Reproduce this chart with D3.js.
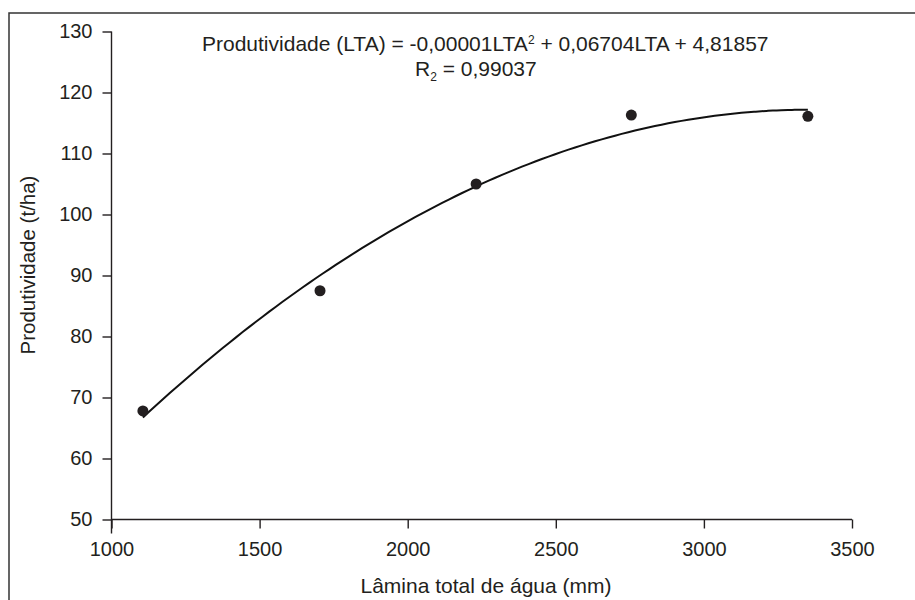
<!DOCTYPE html>
<html>
<head>
<meta charset="utf-8">
<script src="https://cdn.jsdelivr.net/npm/d3@7"></script>
<style>
  html, body { margin: 0; padding: 0; background: #fff; }
  svg { display: block; }
  text { font-family: "Liberation Sans", Arial, sans-serif; fill: #231f20; }
</style>
</head>
<body>
<svg id="chart" width="915" height="600"></svg>
<script>
// Lâmina total de água (mm) and measured yield (t/ha)
const lamina = [1106, 1704, 2231, 2755, 3351];
const produtividade = [67.8, 87.5, 105.0, 116.3, 116.1];

// Quadratic fit coefficients: a*LTA^2 + b*LTA + c
const coef = [-0.00001, 0.06704, 4.81857];
const r2 = "0,99037";

const xTicks = [1000, 1500, 2000, 2500, 3000, 3500];
const yTicks = [50, 60, 70, 80, 90, 100, 110, 120, 130];

const svg = d3.select("#chart");
const ink = "#231f20";

// outer frame
svg.append("rect")
  .attr("x", 9).attr("y", 13)
  .attr("width", 1000).attr("height", 1000)
  .attr("fill", "none").attr("stroke", "#333").attr("stroke-width", 1.5);

const x = d3.scaleLinear().domain([1000, 3500]).range([111.5, 852]);
const y = d3.scaleLinear().domain([50, 130]).range([519.5, 31.5]);

const tickFs = 20;
const titleFs = 21;

// y axis
const gy = svg.append("g").attr("transform", `translate(${x(1000)},0)`)
  .call(d3.axisLeft(y).tickValues(yTicks).tickFormat(d3.format("d"))
    .tickSize(9).tickPadding(10).tickSizeOuter(0));
gy.select(".domain").attr("stroke", ink).attr("stroke-width", 1.4)
  .attr("d", `M0,${y(130)}V${y(50) + 14}`);
gy.selectAll(".tick line").attr("stroke", ink).attr("stroke-width", 1.4);
gy.selectAll(".tick text").attr("font-size", tickFs)
  .attr("font-family", "Liberation Sans, Arial, sans-serif").attr("fill", ink);

// x axis
const gx = svg.append("g").attr("transform", `translate(0,${y(50)})`)
  .call(d3.axisBottom(x).tickValues(xTicks).tickFormat(d3.format("d"))
    .tickSize(9).tickPadding(13).tickSizeOuter(0));
gx.select(".domain").attr("stroke", ink).attr("stroke-width", 1.4)
  .attr("d", `M${x(1000)},0H${x(3500)}`);
gx.selectAll(".tick line").attr("stroke", ink).attr("stroke-width", 1.4);
gx.selectAll(".tick text").attr("font-size", tickFs)
  .attr("font-family", "Liberation Sans, Arial, sans-serif").attr("fill", ink);

// axis titles
svg.append("text")
  .attr("x", 486).attr("y", 593)
  .attr("text-anchor", "middle").attr("font-size", titleFs)
  .text("Lâmina total de água (mm)");

svg.append("text")
  .attr("transform", "translate(35,265) rotate(-90)")
  .attr("text-anchor", "middle").attr("font-size", 20.5)
  .text("Produtividade (t/ha)");

// fitted curve
const fit = v => coef[0] * v * v + coef[1] * v + coef[2];
const x0 = d3.min(lamina), x1 = d3.max(lamina);
const curvePts = d3.range(0, 101).map(i => {
  const v = x0 + (x1 - x0) * i / 100;
  return [v, fit(v)];
});
svg.append("path")
  .datum(curvePts)
  .attr("fill", "none").attr("stroke", "#111").attr("stroke-width", 2)
  .attr("d", d3.line().x(d => x(d[0])).y(d => y(d[1])).curve(d3.curveBasis));

// observed points
svg.selectAll("circle.obs")
  .data(lamina.map((v, i) => [v, produtividade[i]]))
  .join("circle")
  .attr("class", "obs")
  .attr("cx", d => x(d[0])).attr("cy", d => y(d[1]))
  .attr("r", 5.5).attr("fill", ink);

// equation
const fmt = v => String(v).replace(".", ",");
const eq = svg.append("text").attr("x", 202).attr("y", 51).attr("font-size", titleFs);
eq.append("tspan").text(`Produtividade (LTA) = ${fmt(coef[0].toFixed(5))}LTA`);
eq.append("tspan").attr("font-size", 12).attr("dy", -7).text("2");
eq.append("tspan").attr("dy", 7).text(` + ${fmt(coef[1].toFixed(5))}LTA + ${fmt(coef[2].toFixed(5))}`);

const r = svg.append("text").attr("x", 415).attr("y", 76).attr("font-size", titleFs);
r.append("tspan").text("R");
r.append("tspan").attr("font-size", 12).attr("dy", 5).text("2");
r.append("tspan").attr("dy", -5).text(` = ${r2}`);
</script>
</body>
</html>
